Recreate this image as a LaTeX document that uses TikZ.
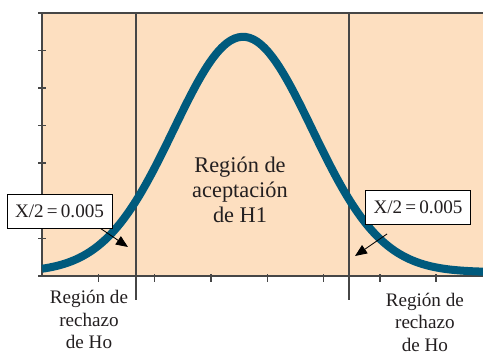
\documentclass[tikz,border=0pt]{standalone}
\usepackage{fontspec}
\setmainfont{Liberation Serif}
\usetikzlibrary{arrows.meta}
\definecolor{peach}{RGB}{253,223,192}
\definecolor{curveblue}{RGB}{0,90,125}
\definecolor{axisgray}{RGB}{70,70,70}
\definecolor{textgray}{RGB}{35,31,32}

\begin{document}
\begin{tikzpicture}[>={Triangle[length=8.5pt,width=7pt]}, x=1.4075cm, y=0.94cm,
    pbox/.style={draw=black, fill=white, line width=0.6pt, minimum width=2.625cm,
      minimum height=0.85cm, inner sep=0pt, text=textgray,
      font=\fontsize{13.6}{16}\selectfont},
    rlabel/.style={align=center, inner sep=0pt, anchor=north, text=textgray,
      font=\fontsize{13.6}{16}\selectfont}]
    \useasboundingbox (-0.746,-2.074) rectangle (7.833,7.340);

    % Shaded area
    \fill[peach] (0,0) rectangle (7.833,7);
    \draw[axisgray, line width=1.4pt] (0,7) -- (7.833,7);

    % Axes and ticks
    \draw[axisgray, line width=1.2pt] (0,7) -- (0,0) -- (7.833,0);
    \foreach \y in {0,...,7}
        \draw[axisgray, line width=1.2pt] (-0.07,\y) -- (0.07,\y);
    \foreach \x in {1,...,7}
        \draw[axisgray, line width=1pt] (\x,0.05) -- (\x,-0.15);

    % Critical values
    \draw[axisgray, line width=1.2pt] (1.67,7) -- (1.67,-0.64);
    \draw[axisgray, line width=1.2pt] (5.453,7) -- (5.453,-0.64);

    % Normal curve
    \draw[curveblue, line width=5.7pt] plot[domain=0:7.833, samples=120, smooth]
        (\x, {0.1+6.26*exp(-((\x-3.57)^2)/(2*1.23^2))});

    % Significance boxes
    \node[pbox] (lbox) at (0.311,1.729) {X/2\,=\,0.005};
    \node[pbox] (rbox) at (6.679,1.835) {X/2\,=\,0.005};
    \coordinate (ltip) at (1.527,0.771);
    \coordinate (rstart) at (6.128,1.117);
    \coordinate (rtip) at (5.56,0.532);
    \draw[->, line width=0.6pt] ([xshift=-0.3cm]lbox.south east) -- (ltip);
    \draw[->, line width=0.6pt] (rstart) -- (rtip);

    % Region labels
    \node[rlabel, font=\fontsize{15.9}{17.8}\selectfont] (accept) at (3.517,3.176)
        {Región de\\aceptación\\de H1};
    \node[rlabel] (lreject) at (0.835,-0.372) {Región de\\rechazo\\de Ho};
    \node[rlabel] (rreject) at (6.80,-0.44) {Región de\\rechazo\\de Ho};
\end{tikzpicture}
\end{document}
